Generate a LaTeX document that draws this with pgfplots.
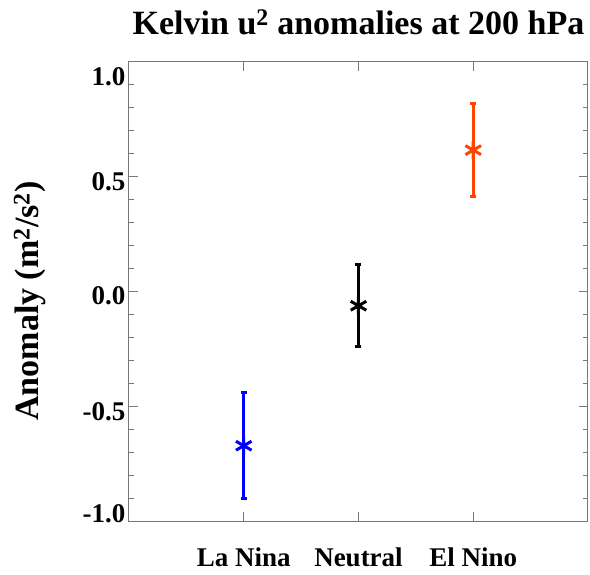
\documentclass[border=0pt]{standalone}
\usepackage{pgfplots}
\pgfplotsset{compat=1.18}
\usepackage{fontspec}
\setmainfont{Liberation Serif}
\definecolor{elnino}{RGB}{255,69,0}
\definecolor{axgray}{RGB}{120,120,120}
\begin{document}
\begin{tikzpicture}
\path[use as bounding box] (0,0) rectangle (590pt,574pt);
\begin{axis}[
  at={(129pt,53pt)}, anchor=south west,
  width=459pt, height=459pt, scale only axis,
  xmin=0, xmax=4, ymin=-1, ymax=1,
  axis line style={axgray, line width=1pt},
  xtick={1,2,3},
  xticklabels={La Nina,Neutral,El Nino},
  ytick={-1,-0.5,0,0.5,1},
  yticklabels={{\raisebox{-1pt}{-1.0}},{\raisebox{-14.5pt}{-0.5}},{\raisebox{-13pt}{0.0}},{\raisebox{-13.5pt}{0.5}},{\raisebox{-24pt}{1.0}}},
  minor ytick={-0.9,-0.8,-0.7,-0.6,-0.4,-0.3,-0.2,-0.1,0.1,0.2,0.3,0.4,0.6,0.7,0.8,0.9},
  tick align=inside,
  tick pos=both,
  major tick length=9pt,
  minor tick length=5pt,
  tick style={axgray, line width=1pt},
  xticklabel style={font=\fontsize{27}{32}\selectfont\bfseries, anchor=base, yshift=-45pt},
  yticklabel style={font=\fontsize{27}{32}\selectfont\bfseries, anchor=base east},
  title={Kelvin u\textsuperscript{2} anomalies at 200 hPa},
  title style={font=\fontsize{34}{40}\selectfont\bfseries, at={(axis description cs:0.5,1)}, anchor=base, yshift=21pt},
  ylabel={Anomaly (m\textsuperscript{2}/s\textsuperscript{2})},
  ylabel style={font=\fontsize{34}{40}\selectfont\bfseries, at={(axis description cs:-0.2157,0.479)}, anchor=center},
  clip=false,
]
\addplot[blue, only marks, mark=asterisk, mark size=9pt, mark options={line width=3pt},
  error bars/.cd, y dir=both, y explicit,
  error bar style={blue, line width=3pt},
  error mark options={blue, rotate=90, mark size=3pt, line width=3pt}]
  coordinates {(1,-0.672) +- (0,0.232)};
\addplot[black, only marks, mark=asterisk, mark size=9pt, mark options={line width=3pt},
  error bars/.cd, y dir=both, y explicit,
  error bar style={black, line width=3pt},
  error mark options={black, rotate=90, mark size=3pt, line width=3pt}]
  coordinates {(2,-0.062) +- (0,0.178)};
\addplot[elnino, only marks, mark=asterisk, mark size=9pt, mark options={line width=3pt},
  error bars/.cd, y dir=both, y explicit,
  error bar style={elnino, line width=3pt},
  error mark options={elnino, rotate=90, mark size=3pt, line width=3pt}]
  coordinates {(3,0.616) +- (0,0.201)};
\end{axis}
\end{tikzpicture}
\end{document}
